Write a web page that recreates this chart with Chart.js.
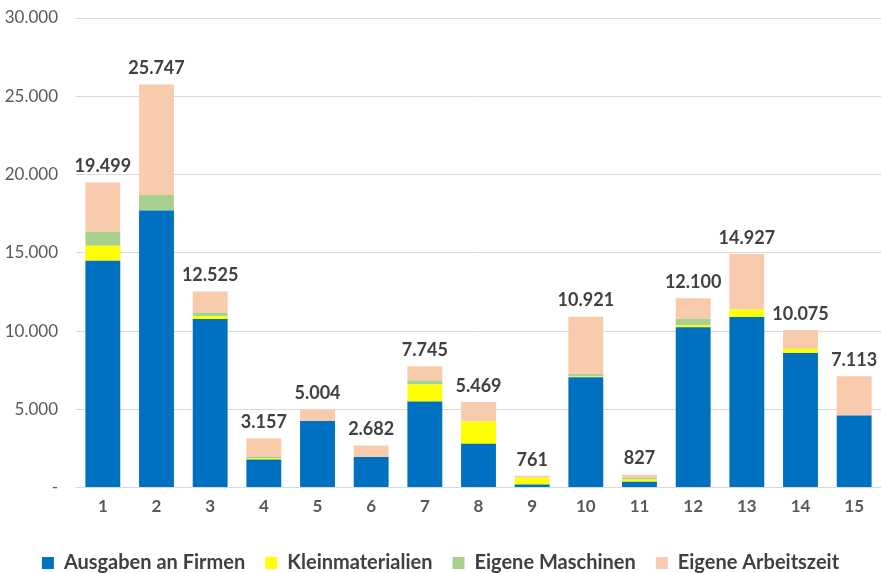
<!DOCTYPE html>
<html>
<head>
<meta charset="utf-8">
<script src="https://cdn.jsdelivr.net/npm/chart.js@4"></script>
<style>
  html, body { margin: 0; padding: 0; background: #fff; }
  #wrap { width: 881px; height: 573px; position: relative; }
</style>
</head>
<body>
<div id="wrap"><canvas id="chart"></canvas></div>
<script>
// --- Data ---
const labels      = ["1","2","3","4","5","6","7","8","9","10","11","12","13","14","15"];
const firmen      = [14500, 17700, 10770, 1790, 4250, 1950, 5500, 2800, 200, 7050, 380, 10250, 10900, 8600, 4600];
const kleinmat    = [950, 0, 200, 100, 0, 0, 1080, 1430, 430, 50, 130, 120, 470, 270, 0];
const maschinen   = [900, 1000, 220, 100, 0, 0, 260, 0, 0, 180, 100, 410, 0, 30, 0];
const arbeitszeit = [3149, 7047, 1335, 1167, 754, 732, 905, 1239, 131, 3641, 217, 1320, 3557, 1175, 2513];
const yTicks      = [0, 5000, 10000, 15000, 20000, 25000, 30000];

const FONT = "Lato, 'Open Sans', sans-serif";
const fmtDe = (v) => v === 0 ? "-" : Math.round(v).toLocaleString("de-DE");

// --- Totals above stacked bars ---
const totalsPlugin = {
  id: "totals",
  afterDatasetsDraw(chart) {
    const { ctx, scales: { x, y } } = chart;
    ctx.save();
    ctx.font = `bold 18px ${FONT}`;
    ctx.fillStyle = "#404040";
    ctx.textAlign = "center";
    ctx.textBaseline = "bottom";
    labels.forEach((_, i) => {
      const total = firmen[i] + kleinmat[i] + maschinen[i] + arbeitszeit[i];
      ctx.fillText(fmtDe(total), x.getPixelForValue(i), y.getPixelForValue(total) - 7);
    });
    ctx.restore();
  }
};

const ds = (label, data, color) => ({
  label, data,
  backgroundColor: color,
  borderWidth: 0,
  categoryPercentage: 1,
  barPercentage: 0.65,
});

new Chart(document.getElementById("chart"), {
  type: "bar",
  data: {
    labels,
    datasets: [
      ds("Ausgaben an Firmen", firmen, "#0070C0"),
      ds("Kleinmaterialien", kleinmat, "#FFFF00"),
      ds("Eigene Maschinen", maschinen, "#A9D18E"),
      ds("Eigene Arbeitszeit", arbeitszeit, "#F8CBAD"),
    ],
  },
  options: {
    responsive: true,
    maintainAspectRatio: false,
    animation: false,
    layout: { padding: { top: 18, right: 0, left: 0, bottom: -10 } },
    plugins: {
      tooltip: { enabled: false },
      legend: {
        position: "bottom",
        labels: {
          color: "#404040",
          font: { family: FONT, size: 20, weight: "bold" },
          boxWidth: 12, boxHeight: 12,
          padding: 20,
        },
      },
    },
    scales: {
      x: {
        stacked: true,
        grid: { display: false },
        border: { display: false },
        ticks: { color: "#595959", font: { family: FONT, size: 17, weight: "bold" }, padding: 1 },
        afterFit: (axis) => { axis.height += 15; },
      },
      y: {
        stacked: true,
        min: 0, max: 30000,
        afterBuildTicks: (axis) => { axis.ticks = yTicks.map(v => ({ value: v })); },
        afterFit: (axis) => { axis.width = 76; axis.paddingTop = 0; axis.paddingBottom = 0; },
        grid: { color: "#D9D9D9", lineWidth: 1, drawTicks: false },
        border: { display: false },
        ticks: { color: "#595959", font: { family: FONT, size: 17 }, padding: 18, callback: (v) => fmtDe(v) },
      },
    },
  },
  plugins: [totalsPlugin],
});
</script>
</body>
</html>
